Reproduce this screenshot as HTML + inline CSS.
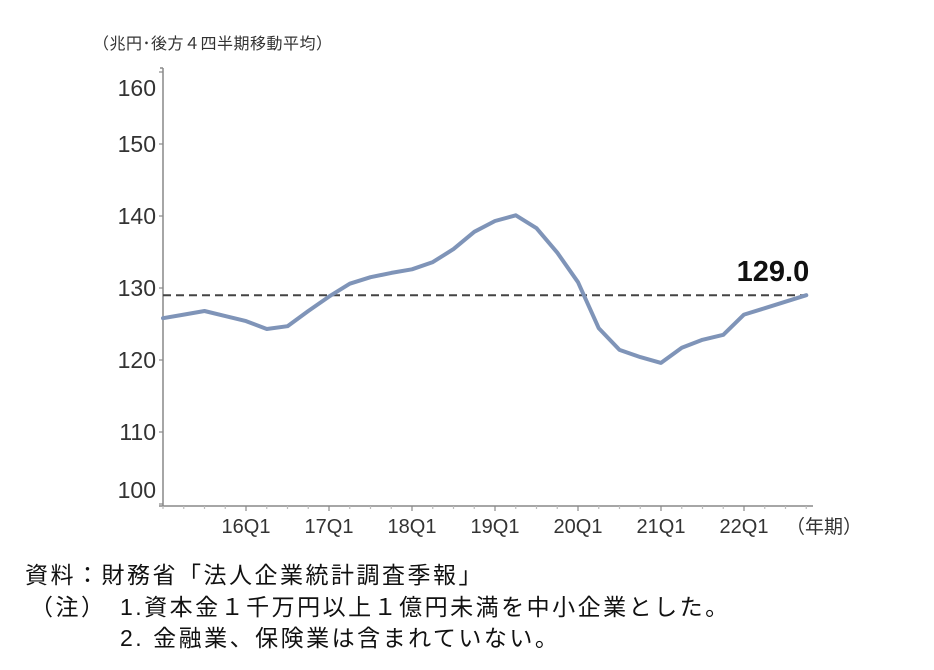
<!DOCTYPE html>
<html><head><meta charset="utf-8">
<style>
body{margin:0;background:#fff;width:934px;height:670px;overflow:hidden;font-family:"Liberation Sans","Noto Sans CJK JP",sans-serif;}
svg{position:absolute;left:0;top:0}
.note{position:absolute;font-size:23px;line-height:30px;letter-spacing:2.5px;color:#111;white-space:nowrap;font-family:"Liberation Sans","Noto Sans CJK JP",sans-serif;}
</style></head>
<body>
<svg id="chart" width="934" height="670">
<text x="93" y="49" font-size="16" letter-spacing="0.5" fill="#333" font-family="Liberation Sans, Noto Sans CJK JP, sans-serif">（兆円･後方４四半期移動平均）</text>
<text x="786" y="533" font-size="19" fill="#333" font-family="Liberation Sans, Noto Sans CJK JP, sans-serif">（年期）</text>
</svg>
<div class="note" style="left:25px;top:560px">資料：財務省「法人企業統計調査季報」</div>
<div class="note" style="left:30px;top:592px">（注）</div>
<div class="note" style="left:120px;top:592px">1.資本金１千万円以上１億円未満を中小企業とした。</div>
<div class="note" style="left:120px;top:623px">2. 金融業、保険業は含まれていない。</div>
<script>
const yTicks=[100,110,120,130,140,150,160];
const xTickLabels=["16Q1","17Q1","18Q1","19Q1","20Q1","21Q1","22Q1"];
const xTickIndex=[4,8,12,16,20,24,28];
const values=[125.8,126.3,126.8,126.1,125.4,124.3,124.7,126.8,128.8,130.6,131.5,132.1,132.6,133.6,135.4,137.8,139.3,140.1,138.3,134.9,130.8,124.4,121.4,120.4,119.6,121.7,122.8,123.5,126.3,127.2,128.1,129.0];
const refValue=[129.0];
const refLabel=["129.0"];

const NS="http://www.w3.org/2000/svg";
const svg=document.getElementById('chart');
const X0=163,STEP=20.75,AX_END=813,AX_BOTTOM=506,AX_TOP=68;
function x(i){return X0+i*STEP;}
function y(v){return 288-(v-130)*7.2;}
function mk(tag,attrs){const e=document.createElementNS(NS,tag);for(const k in attrs)e.setAttribute(k,attrs[k]);svg.appendChild(e);return e;}

let ax=mk('line',{x1:X0,y1:AX_TOP,x2:X0,y2:AX_BOTTOM,stroke:'#888','stroke-width':1.5});


let bx=mk('line',{x1:X0-4,y1:AX_BOTTOM,x2:AX_END,y2:AX_BOTTOM,stroke:'#888','stroke-width':1.5});


mk('line',{x1:X0-3,y1:AX_TOP,x2:X0,y2:AX_TOP,stroke:'#888','stroke-width':1.5});

yTicks.forEach(v=>{
  const ty=y(v);
  if(ty>AX_TOP&&ty<AX_BOTTOM){mk('line',{x1:X0-4,y1:ty,x2:X0,y2:ty,stroke:'#888','stroke-width':1.2});}
  const ly=Math.min(Math.max(ty,88),490);
  const t=mk('text',{x:X0-7,y:ly+8,'text-anchor':'end','font-size':23,fill:'#333'});
  t.textContent=String(v);
  
  
});
for(let q=0;q<=31;q++){
  const major=xTickIndex.includes(q);
  mk('line',{x1:x(q),y1:AX_BOTTOM,x2:x(q),y2:AX_BOTTOM+(major?5:3),stroke:major?'#888':'#bbb','stroke-width':1.2});
}
xTickLabels.forEach((lab,k)=>{
  const t=mk('text',{x:x(xTickIndex[k]),y:533,'text-anchor':'middle','font-size':20,fill:'#333'});
  t.textContent=lab;
  
  
});

const ry=y(refValue[0]);
const ref=mk('line',{x1:X0,y1:ry,x2:AX_END-3,y2:ry,stroke:'#444','stroke-width':2,'stroke-dasharray':'8,5'});


const rl=mk('text',{x:x(values.length-1)+3,y:ry-14,'text-anchor':'end','font-size':29,'font-weight':'bold',fill:'#111'});
rl.textContent=refLabel[0];



const pts=values.map((v,i)=>x(i).toFixed(1)+','+y(v).toFixed(1)).join(' ');
const line=mk('polyline',{points:pts,fill:'none',stroke:'#7f94b8','stroke-width':4,'stroke-linejoin':'round','stroke-linecap':'round'});


</script>
</body></html>
